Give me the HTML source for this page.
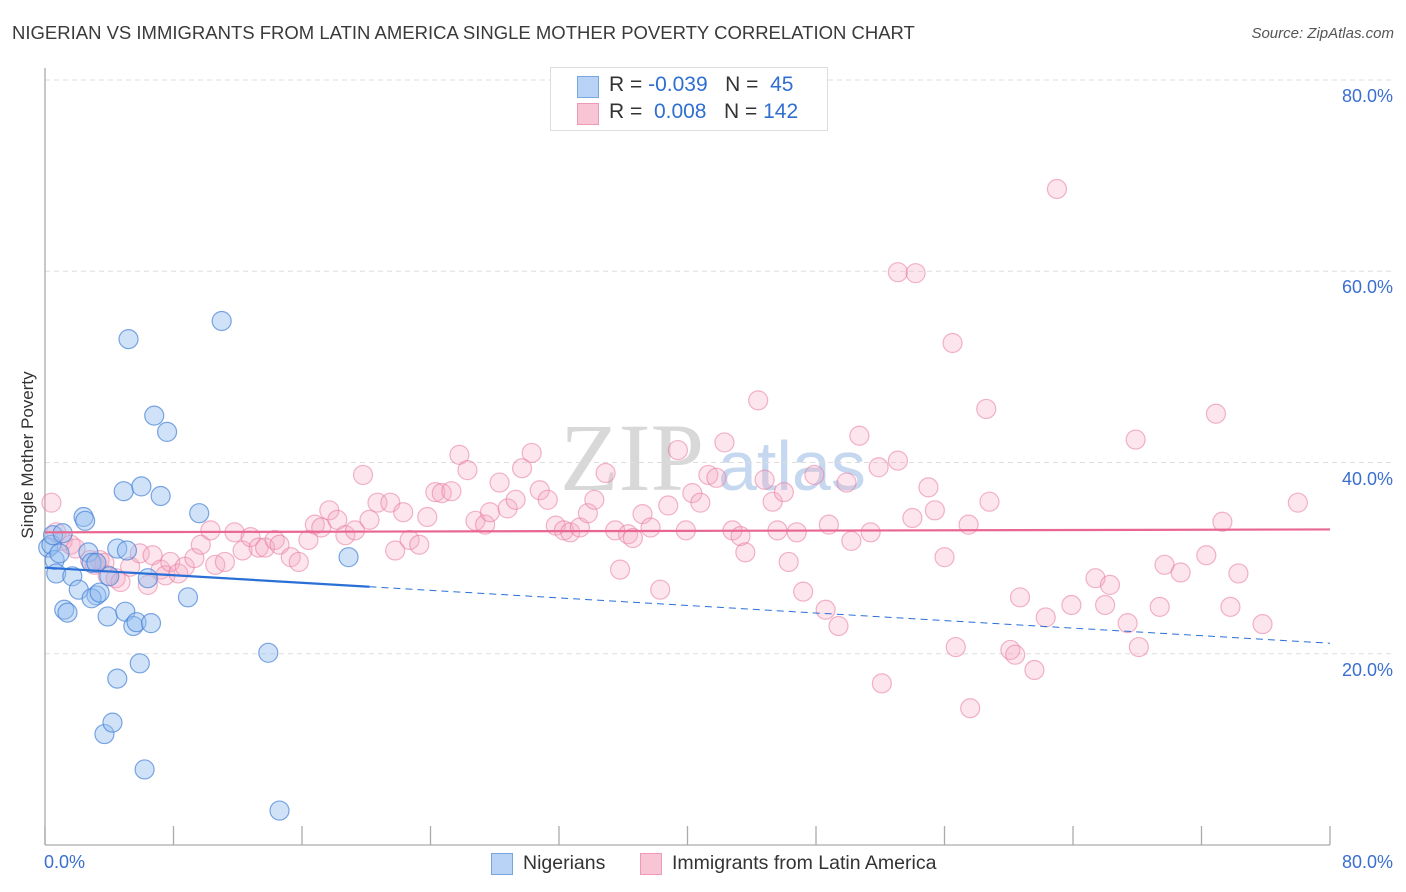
<!DOCTYPE html>
<html><head><meta charset="utf-8"><style>
body{margin:0;background:#fff;font-family:"Liberation Sans",sans-serif;}
#wrap{position:relative;width:1406px;height:892px;overflow:hidden;}
.t{position:absolute;white-space:nowrap;}
</style></head><body>
<div id="wrap">
<div class="t" style="left:12px;top:22px;font-size:18.5px;color:#3a3a3a;">NIGERIAN VS IMMIGRANTS FROM LATIN AMERICA SINGLE MOTHER POVERTY CORRELATION CHART</div>
<div class="t" style="right:12px;top:25px;font-size:15px;color:#555;font-style:italic;">Source: ZipAtlas.com</div>
<div class="t" style="left:28px;top:455px;font-size:17px;color:#333;transform:translate(-50%,-50%) rotate(-90deg);">Single Mother Poverty</div>
<svg id="plot" width="1406" height="892" style="position:absolute;left:0;top:0">
<text x="560" y="490" font-family="Liberation Serif,serif" font-size="96" fill="#d8d8d8">ZIP</text>
<text x="718" y="490" font-family="Liberation Sans,sans-serif" font-size="70" fill="#c5d8f0">atlas</text>
</svg>
<div style="position:absolute;left:550px;top:67px;width:276px;height:62px;border:1px solid #ddd;background:#fff;">
<div style="position:absolute;left:26px;top:8px;width:20px;height:20px;background:#b8d3f5;border:1px solid #7aa6e0;"></div>
<div class="t" style="left:58px;top:5px;font-size:21px;color:#333;">R = <span style="color:#2f6fd0">-0.039</span>&nbsp;&nbsp;&nbsp;N = &nbsp;<span style="color:#2f6fd0">45</span></div>
<div style="position:absolute;left:26px;top:35px;width:20px;height:20px;background:#f8c5d5;border:1px solid #ee9ab5;"></div>
<div class="t" style="left:58px;top:32px;font-size:21px;color:#333;">R = &nbsp;<span style="color:#2f6fd0">0.008</span>&nbsp;&nbsp;&nbsp;N = <span style="color:#2f6fd0">142</span></div>
</div>
<div style="position:absolute;left:491px;top:853px;width:20px;height:20px;background:#b8d3f5;border:1px solid #7aa6e0;"></div>
<div class="t" style="left:523px;top:852px;font-size:19.5px;color:#333;">Nigerians</div>
<div style="position:absolute;left:640px;top:853px;width:20px;height:20px;background:#f8c5d5;border:1px solid #ee9ab5;"></div>
<div class="t" style="left:672px;top:852px;font-size:19.5px;color:#333;">Immigrants from Latin America</div>
</div>
<script>
const yTicks=[20,40,60,80];
const yTickLabels=["20.0%","40.0%","60.0%","80.0%"];
const xTicks=[0,8,16,24,32,40,48,56,64,72,80];
const xEndLabels=["0.0%","80.0%"];
const nigX=[11.0,5.2,6.8,7.6,4.9,6.0,7.2,2.4,2.5,9.6,4.5,18.9,0.2,0.4,0.6,0.9,0.7,1.7,2.7,2.9,3.2,2.1,3.2,2.9,3.4,4.0,6.4,1.2,1.4,3.9,5.0,5.5,5.7,6.6,5.9,4.5,13.9,3.7,4.2,6.2,14.6,8.9,5.1,0.5,1.1];
const nigY=[54.8,52.9,44.9,43.2,37.0,37.5,36.5,34.3,33.9,34.7,31.0,30.1,31.1,31.4,29.8,30.5,28.4,28.1,30.6,29.5,29.5,26.7,26.1,25.8,26.4,28.1,27.9,24.6,24.3,23.9,24.4,22.9,23.3,23.2,19.0,17.4,20.1,11.6,12.8,7.9,3.6,25.9,30.8,32.4,32.6];
const latX=[0.4,0.7,1.1,1.6,1.9,2.8,3.1,3.4,3.7,3.9,4.4,4.7,5.3,5.9,6.4,6.7,7.2,7.5,7.8,8.3,8.7,9.3,9.7,10.3,10.6,11.2,11.8,12.3,12.8,13.3,13.7,14.3,14.6,15.3,15.8,16.4,16.8,17.2,17.7,18.2,18.7,19.3,19.8,20.2,20.7,21.5,21.8,22.3,22.7,23.3,23.8,24.3,24.7,25.3,25.8,26.3,26.8,27.4,27.7,28.3,28.8,29.3,29.7,30.3,30.8,31.3,31.8,32.3,32.7,33.3,33.8,34.2,34.9,35.5,35.8,36.3,36.6,37.2,37.7,38.3,38.8,39.4,39.9,40.3,40.8,41.3,41.8,42.3,42.8,43.3,43.6,44.4,44.8,45.3,45.6,46.0,46.3,46.8,47.2,47.9,48.6,48.8,49.4,49.9,50.2,50.7,51.4,51.9,52.1,53.1,53.1,54.0,54.2,55.0,55.4,56.0,56.5,56.7,57.5,57.6,58.6,58.8,60.7,60.1,60.4,61.6,62.3,63.0,63.9,65.4,66.0,66.3,67.4,67.9,68.1,69.4,69.7,70.7,72.3,72.9,73.3,73.8,74.3,75.8,78.0];
const latY=[35.8,32.7,31.8,31.4,31.0,29.8,29.3,29.8,29.5,28.2,27.9,27.5,29.1,30.5,27.2,30.3,28.8,28.2,29.6,28.4,29.1,30.0,31.4,32.9,29.3,29.6,32.7,30.8,32.2,31.1,31.1,31.9,31.4,30.1,29.6,31.9,33.5,33.2,35.0,34.0,32.4,32.9,38.7,34.0,35.8,35.8,30.8,34.8,31.9,31.4,34.3,36.9,36.8,37.0,40.8,39.2,33.9,33.5,34.8,37.9,35.2,36.1,39.4,41.0,37.1,36.1,33.4,32.9,32.7,33.2,34.7,36.1,38.9,32.9,28.8,32.5,32.1,34.6,33.2,26.7,35.5,41.3,32.9,36.8,35.8,38.7,38.4,42.1,32.9,32.3,30.6,46.5,38.2,35.9,32.9,36.9,29.6,32.7,26.5,38.7,24.6,33.5,22.9,37.9,31.8,42.8,32.7,39.5,16.9,59.9,40.2,34.2,59.8,37.4,35.0,30.1,52.5,20.7,33.5,14.3,45.6,35.9,25.9,20.4,19.9,18.3,23.8,68.6,25.1,27.9,25.1,27.2,23.2,42.4,20.7,24.9,29.3,28.5,30.3,45.1,33.8,24.9,28.4,23.1,35.8];
const nigTrend=[29.0,21.1];
const latTrend=[32.7,33.0];
const nigSolidEnd=20.2;

const X0=45,X1=1330,Y0=845,Y80=80;
const sx=v=>X0+(X1-X0)*v/80;
const sy=v=>Y0-(Y0-Y80)*v/80;
const NS="http://www.w3.org/2000/svg";
const svg=document.getElementById('plot');
const wrap=document.getElementById('wrap');
function mk(tag,attrs){const e=document.createElementNS(NS,tag);for(const k in attrs)e.setAttribute(k,attrs[k]);svg.appendChild(e);return e;}
yTicks.forEach((v,i)=>{
  const g=mk('line',{x1:X0,x2:1393,y1:sy(v),y2:sy(v),stroke:'#ddd','stroke-dasharray':'5,4'});
  
  
  const d=document.createElement('div');d.className='t';
  d.style.cssText='right:13px;top:'+(sy(v)+6)+'px;font-size:18px;color:#3a6fd0;';
  d.textContent=yTickLabels[i];
  
  
  wrap.appendChild(d);
});
const ya=mk('line',{x1:X0,x2:X0,y1:68,y2:Y0,stroke:'#aaa','stroke-width':1.3});


const xa=mk('line',{x1:X0,x2:X1,y1:Y0,y2:Y0,stroke:'#aaa','stroke-width':1.3});


xTicks.forEach(v=>{
  const t=mk('line',{x1:sx(v),x2:sx(v),y1:826,y2:Y0,stroke:'#aaa','stroke-width':1.3});
  
  
});
[[X0-1,xEndLabels[0],'left'],[1393,xEndLabels[1],'right']].forEach(([x,l,a])=>{
  const d=document.createElement('div');d.className='t';
  d.style.cssText=(a==='left'?'left:'+x+'px;':'right:13px;')+'top:852px;font-size:18px;color:#3a6fd0;';
  d.textContent=l;
  
  
  wrap.appendChild(d);
});
latX.forEach((x,i)=>{
  const c=mk('circle',{cx:sx(x),cy:sy(latY[i]),r:9.5,fill:'rgba(246,170,195,0.3)',stroke:'rgba(232,120,160,0.55)','stroke-width':1.2});
  
  
});
nigX.forEach((x,i)=>{
  const c=mk('circle',{cx:sx(x),cy:sy(nigY[i]),r:9.5,fill:'rgba(150,190,240,0.45)',stroke:'rgba(70,130,215,0.7)','stroke-width':1.2});
  
  
});
const nt=x=>nigTrend[0]+(nigTrend[1]-nigTrend[0])*x/80;
const l1=mk('line',{x1:sx(0),y1:sy(nt(0)),x2:sx(nigSolidEnd),y2:sy(nt(nigSolidEnd)),stroke:'#2a6fd6','stroke-width':2.2});


const l2=mk('line',{x1:sx(nigSolidEnd),y1:sy(nt(nigSolidEnd)),x2:sx(80),y2:sy(nt(80)),stroke:'#2a6fd6','stroke-width':1,'stroke-dasharray':'7,5'});


const l3=mk('line',{x1:sx(0),y1:sy(latTrend[0]),x2:sx(80),y2:sy(latTrend[1]),stroke:'#e8668f','stroke-width':2.2});


</script>
</body></html>
